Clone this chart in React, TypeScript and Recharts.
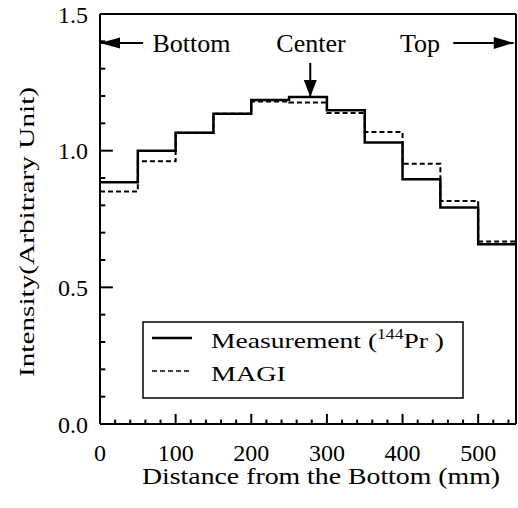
import React from 'react';
import {
  LineChart,
  Line,
  XAxis,
  YAxis,
  ReferenceLine,
  ReferenceDot,
  Legend,
  Label,
} from 'recharts';

// ---------- data ----------
const binEdges = [0, 50, 100, 150, 200, 250, 300, 350, 400, 450, 500, 550];
const measurement = [0.884, 1.0, 1.066, 1.135, 1.185, 1.196, 1.148, 1.03, 0.895, 0.792, 0.658];
const magi = [0.851, 0.961, 1.066, 1.135, 1.18, 1.176, 1.138, 1.068, 0.952, 0.816, 0.668];

const xTicks = [
  0, 20, 40, 60, 80, 100, 120, 140, 160, 180, 200, 220, 240, 260, 280, 300, 320, 340,
  360, 380, 400, 420, 440, 460, 480, 500, 520, 540,
];
const xMajorTicks = [0, 100, 200, 300, 400, 500];
const yTicks = [0, 0.1, 0.2, 0.3, 0.4, 0.5, 0.6, 0.7, 0.8, 0.9, 1.0, 1.1, 1.2, 1.3, 1.4, 1.5];
const yMajorTicks = [0, 0.5, 1.0, 1.5];

const seriesNames = { measurement: 'Measurement (144Pr )', magi: 'MAGI' };
const xTitle = 'Distance from the Bottom (mm)';
const yTitle = 'Intensity(Arbitrary Unit)';

const regionLabels = [
  { text: 'Bottom', x: 121 },
  { text: 'Center', x: 279 },
  { text: 'Top', x: 423 },
];

const ARROW_Y = 1.394;
const LEFT_ARROW = { from: 57, to: 0 };
const RIGHT_ARROW = { from: 467, to: 547 };
const CENTER_ARROW = { x: 278, from: 1.321, to: 1.196 };

const X_DOMAIN: [number, number] = [0, 550];
const Y_DOMAIN: [number, number] = [0, 1.5];

const X_TICK_LEN = { major: 0.037, minor: 0.016 };
const Y_TICK_LEN = { major: 17, minor: 7 };

const data = binEdges.map((x, i) => ({
  x,
  measurement: measurement[Math.min(i, measurement.length - 1)],
  magi: magi[Math.min(i, magi.length - 1)],
}));

const FONT = '"Liberation Serif", "Times New Roman", serif';

const isMajor = (v: number, list: number[]) => list.some((m) => Math.abs(m - v) < 1e-6);

const xTickSegments = xTicks.map((t) => [
  { x: t, y: Y_DOMAIN[0] },
  { x: t, y: Y_DOMAIN[0] + (isMajor(t, xMajorTicks) ? X_TICK_LEN.major : X_TICK_LEN.minor) },
]);
const yTickSegments = yTicks.map((t) => [
  { x: X_DOMAIN[0], y: t },
  { x: X_DOMAIN[0] + (isMajor(t, yMajorTicks) ? Y_TICK_LEN.major : Y_TICK_LEN.minor), y: t },
]);

const XTitle = (props: any) => {
  const vb = props.viewBox || { x: 100, y: 424, width: 416, height: 84 };
  return (
    <text
      x={vb.x + vb.width / 2 + 13}
      y={vb.y + 60}
      textAnchor="middle"
      fontFamily={FONT}
      fontSize={23}
      fill="#000"
      textLength={358}
      lengthAdjust="spacingAndGlyphs"
    >
      {xTitle}
    </text>
  );
};

const YTitle = (props: any) => {
  const vb = props.viewBox || { x: 0, y: 14, width: 100, height: 410 };
  const cx = 26;
  const cy = vb.y + vb.height / 2 + 13;
  return (
    <text
      x={cx}
      y={cy}
      transform={`rotate(-90 ${cx} ${cy})`}
      dy="0.35em"
      textAnchor="middle"
      fontFamily={FONT}
      fontSize={22}
      fill="#000"
      textLength={290}
      lengthAdjust="spacingAndGlyphs"
    >
      {yTitle}
    </text>
  );
};

const LegendBox = () => (
  <svg width={322} height={78} style={{ display: 'block' }}>
    <rect x={1} y={1} width={320} height={76} fill="#fff" stroke="#000" strokeWidth={1.5} />
    <line x1={10} x2={50} y1={17} y2={17} stroke="#000" strokeWidth={2.5} />
    <line x1={10} x2={50} y1={50} y2={50} stroke="#000" strokeWidth={1.5} strokeDasharray="5 3" />
    <text x={69} y={27} fontFamily={FONT} fontSize={22} fill="#000" textLength={233} lengthAdjust="spacingAndGlyphs">
      Measurement (<tspan dy={-9} fontSize={14}>144</tspan>
      <tspan dy={9}>Pr )</tspan>
    </text>
    <text x={69} y={60} fontFamily={FONT} fontSize={22} fill="#000" textLength={75} lengthAdjust="spacingAndGlyphs">
      {seriesNames.magi}
    </text>
  </svg>
);

const leftHead = (p: any) => (
  <polygon points={`${p.cx},${p.cy} ${p.cx + 20},${p.cy - 5.5} ${p.cx + 20},${p.cy + 5.5}`} fill="#000" />
);
const rightHead = (p: any) => (
  <polygon points={`${p.cx},${p.cy} ${p.cx - 20},${p.cy - 6} ${p.cx - 20},${p.cy + 6}`} fill="#000" />
);
const downHead = (p: any) => (
  <polygon points={`${p.cx},${p.cy} ${p.cx - 6.5},${p.cy - 17} ${p.cx + 6.5},${p.cy - 17}`} fill="#000" />
);
const textShape = (text: string) => (p: any) => (
  <text x={p.cx} y={p.cy} dy="0.35em" textAnchor="middle" fontFamily={FONT} fontSize={26} fill="#000">
    {text}
  </text>
);

const tickStyle = { fontFamily: FONT, fontSize: 24, fill: '#000' };

export default function App() {
  return (
    <div>
      <style>{'body{margin:0;background:#fff}'}</style>
      <LineChart width={518} height={508} data={data} margin={{ top: 14, right: 2, bottom: 0, left: 0 }}>
        <XAxis
          type="number"
          dataKey="x"
          domain={X_DOMAIN}
          ticks={xTicks}
          interval={0}
          height={84}
          axisLine={false}
          tickLine={false}
          tickSize={0}
          tickMargin={20}
          tick={tickStyle}
          tickFormatter={(v: number) => (isMajor(v, xMajorTicks) ? String(v) : '')}
        >
          <Label content={XTitle} />
        </XAxis>
        <YAxis
          type="number"
          domain={Y_DOMAIN}
          ticks={yTicks}
          interval={0}
          width={100}
          axisLine={false}
          tickLine={false}
          tickSize={0}
          tickMargin={12}
          tick={tickStyle}
          tickFormatter={(v: number) => (isMajor(v, yMajorTicks) ? v.toFixed(1) : '')}
        >
          <Label content={YTitle} />
        </YAxis>
        <ReferenceLine x={X_DOMAIN[0]} stroke="#000" strokeWidth={2} />
        <ReferenceLine x={X_DOMAIN[1]} stroke="#000" strokeWidth={2} />
        <ReferenceLine y={Y_DOMAIN[0]} stroke="#000" strokeWidth={2} />
        <ReferenceLine y={Y_DOMAIN[1]} stroke="#000" strokeWidth={2} />
        {xTickSegments.map((seg, i) => (
          <ReferenceLine key={`xt${i}`} segment={seg} stroke="#000" strokeWidth={2} />
        ))}
        {yTickSegments.map((seg, i) => (
          <ReferenceLine key={`yt${i}`} segment={seg} stroke="#000" strokeWidth={2} />
        ))}
        <Line
          type="stepAfter"
          dataKey="magi"
          name={seriesNames.magi}
          stroke="#000"
          strokeWidth={2}
          strokeDasharray="5 3"
          dot={false}
          isAnimationActive={false}
        />
        <Line
          type="stepAfter"
          dataKey="measurement"
          name={seriesNames.measurement}
          stroke="#000"
          strokeWidth={2.5}
          dot={false}
          isAnimationActive={false}
        />
        <ReferenceLine
          segment={[{ x: LEFT_ARROW.to, y: ARROW_Y }, { x: LEFT_ARROW.from, y: ARROW_Y }]}
          stroke="#000"
          strokeWidth={2}
        />
        <ReferenceDot x={LEFT_ARROW.to} y={ARROW_Y} r={1} shape={leftHead} />
        <ReferenceLine
          segment={[{ x: RIGHT_ARROW.from, y: ARROW_Y }, { x: RIGHT_ARROW.to, y: ARROW_Y }]}
          stroke="#000"
          strokeWidth={2}
        />
        <ReferenceDot x={RIGHT_ARROW.to} y={ARROW_Y} r={1} shape={rightHead} />
        <ReferenceLine
          segment={[{ x: CENTER_ARROW.x, y: CENTER_ARROW.from }, { x: CENTER_ARROW.x, y: CENTER_ARROW.to }]}
          stroke="#000"
          strokeWidth={2}
        />
        <ReferenceDot x={CENTER_ARROW.x} y={CENTER_ARROW.to} r={1} shape={downHead} />
        {regionLabels.map((l) => (
          <ReferenceDot key={l.text} x={l.x} y={ARROW_Y} r={1} shape={textShape(l.text)} />
        ))}
        <Legend
          layout="vertical"
          align="center"
          verticalAlign="middle"
          content={<LegendBox />}
          wrapperStyle={{ left: 142, top: 321, width: 322, height: 78, bottom: 'auto', right: 'auto' }}
        />
      </LineChart>
    </div>
  );
}
